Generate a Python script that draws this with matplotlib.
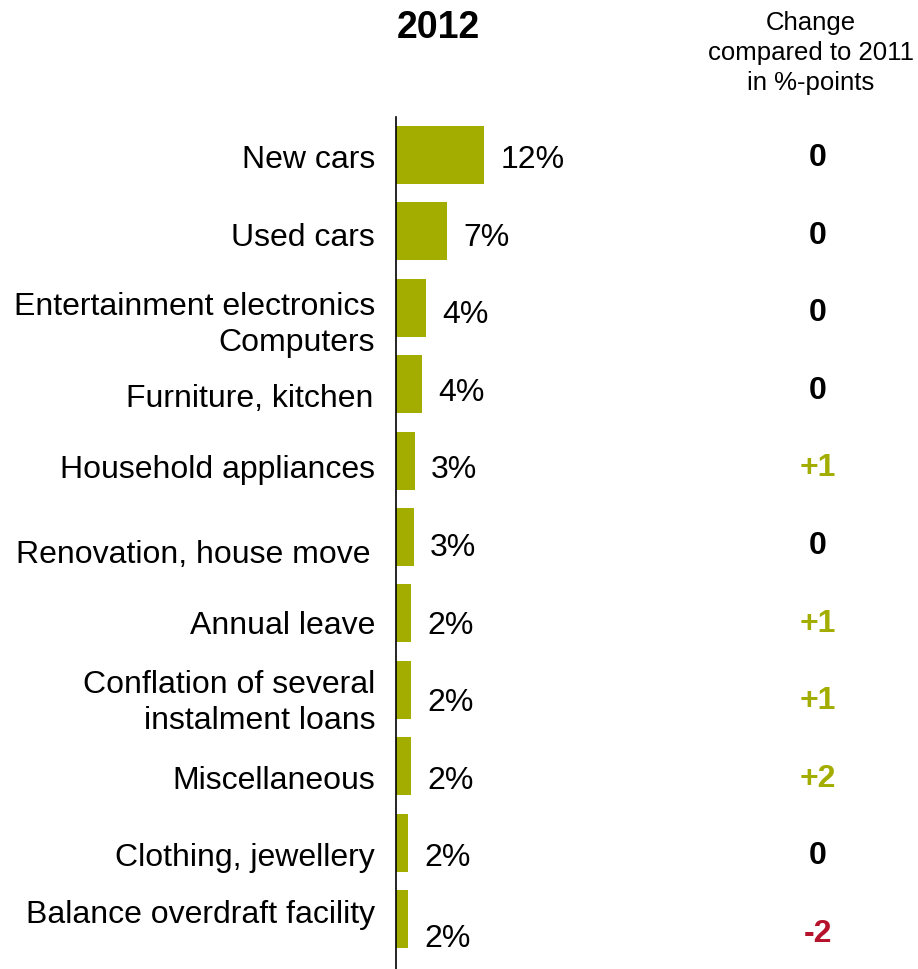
import matplotlib
matplotlib.use("Agg")
import matplotlib.pyplot as plt
from matplotlib import transforms

plt.rcParams['font.family'] = ['Liberation Sans', 'DejaVu Sans']

# Purposes of instalment loans, share in 2012 and change vs. 2011
categories = ["New cars", "Used cars", "Entertainment electronics\nComputers",
              "Furniture, kitchen", "Household appliances", "Renovation, house move",
              "Annual leave", "Conflation of several\ninstalment loans", "Miscellaneous",
              "Clothing, jewellery", "Balance overdraft facility"]
share_2012 = [12.0, 7.0, 4.1, 3.6, 2.6, 2.51, 2.15, 2.1, 2.1, 1.75, 1.7]
change_vs_2011 = [0, 0, 0, 0, 1, 0, 1, 1, 2, 0, -2]

GREEN = '#a3ad00'
RED = '#b5122b'

W, H = 918, 970
fig = plt.figure(figsize=(W / 100, H / 100), dpi=100)

# bar axes: zero line at x=395 px, 7.4 px per percent, rows 76.4 px apart
x0, top = 395.5, 118
ax = fig.add_axes([x0 / W, 0, (W - x0) / W, (H - top) / H])
n = len(categories)
rows = list(range(n))
ax.barh(rows, share_2012, height=0.76, color=GREEN)
ax.set_xlim(0, (W - x0) / 7.4)
span = (H - top) / 76.4
ax.set_ylim(-0.497 + span, -0.497)
for s in ['top', 'right', 'bottom']:
    ax.spines[s].set_visible(False)
ax.spines['left'].set_linewidth(1.2)
ax.set_xticks([])
ax.set_yticks([])

# text layer in pixel coordinates (labels sit on a slightly wider row grid)
tx = fig.add_axes([0, 0, 1, 1])
tx.set_xlim(0, W)
tx.set_ylim(H, 0)
tx.axis('off')
tx.patch.set_alpha(0)

def text_row(i):
    return 160 + 77.6 * i

label_nudge = {2: 10, 3: 6, 5: 7, 10: -21}
label_right = {3: 373, 5: 371}
for i, name in enumerate(categories):
    tx.text(label_right.get(i, 375), text_row(i) + label_nudge.get(i, 0), name,
            ha='right', va='center', fontsize=23, linespacing=1.25)

# value labels next to the bars
blend = transforms.blended_transform_factory(ax.transData, tx.transData)
for i, v in enumerate(share_2012):
    ax.annotate(f"{v:.0f}%", xy=(v, text_row(i) + (3 if i == n - 1 else 0)),
                xycoords=blend, xytext=(11.5, 0), textcoords='offset points',
                ha='left', va='center', fontsize=23, annotation_clip=False)

# change column
for i, d in enumerate(change_vs_2011):
    if d > 0:
        lbl, col = f"+{d}", GREEN
    elif d < 0:
        lbl, col = f"{d}", RED
    else:
        lbl, col = "0", 'black'
    tx.text(818, text_row(i) - 2, lbl, ha='center', va='center',
            fontsize=23, fontweight='bold', color=col)

tx.text(438, 28, "2012", ha='center', va='center', fontsize=27, fontweight='bold')
tx.text(811, 53, "Change\ncompared to 2011\nin %-points", ha='center', va='center',
        fontsize=18.5, linespacing=1.3)

fig.savefig("out.png", dpi=100)
